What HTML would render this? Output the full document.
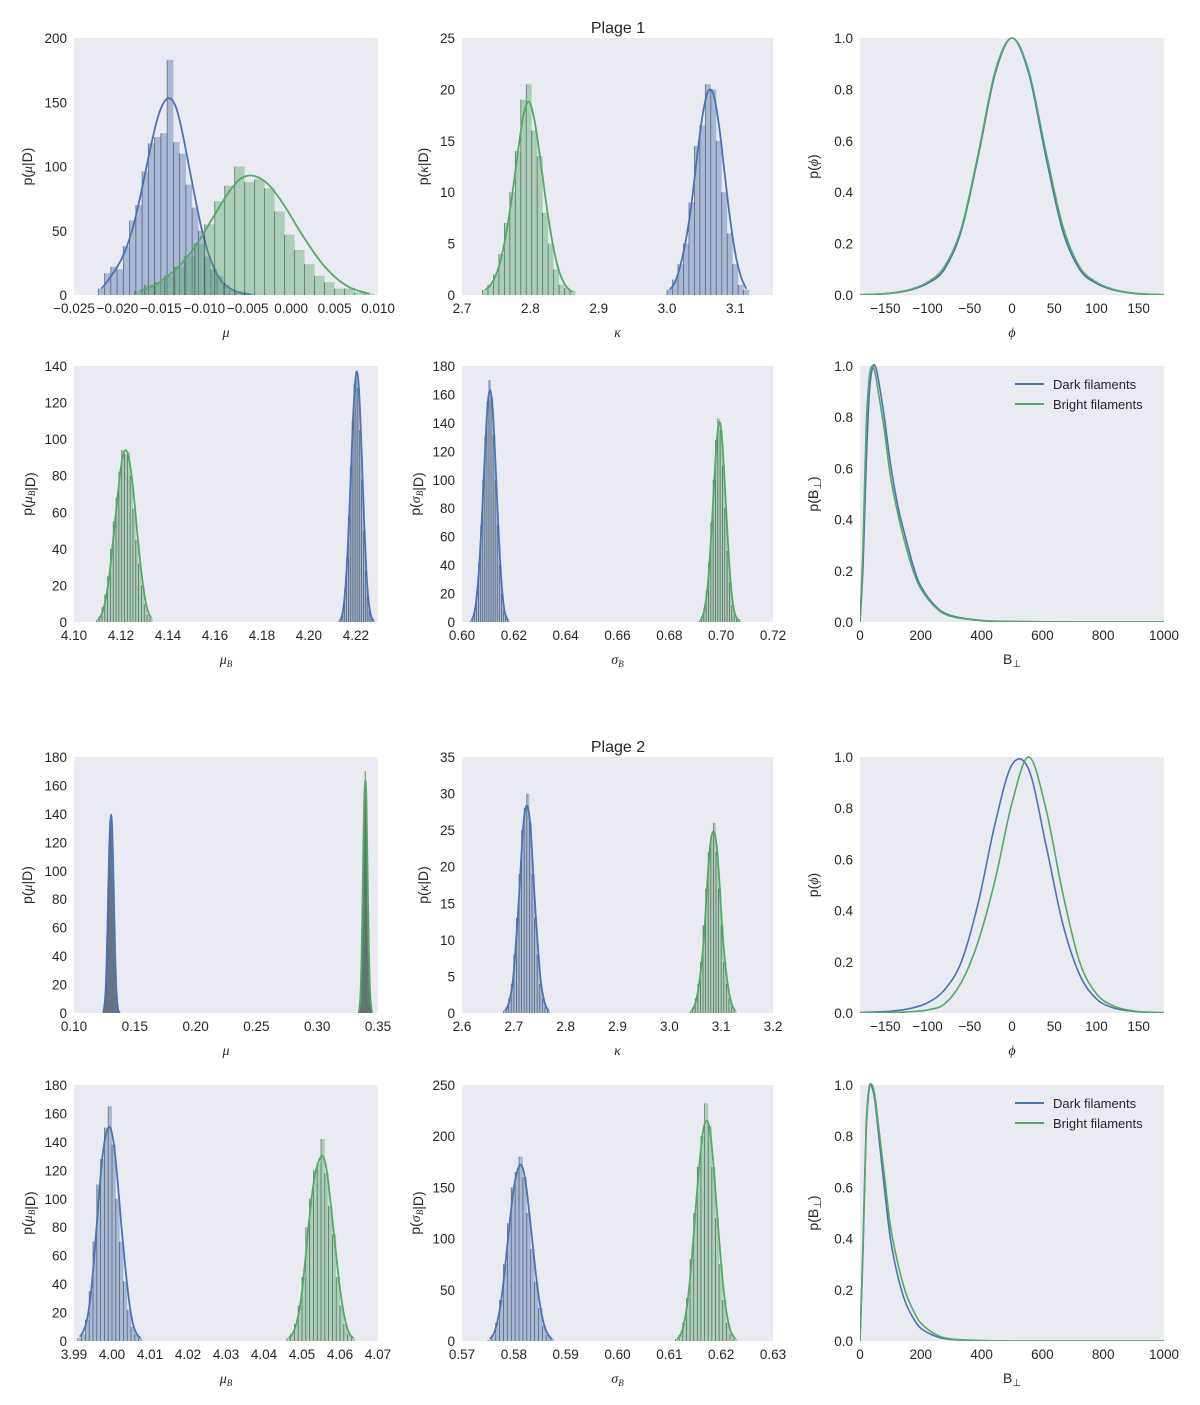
<!DOCTYPE html>
<html><head><meta charset="utf-8"><style>
html,body{margin:0;padding:0;background:#fff;}
svg{display:block;font-family:"Liberation Sans",sans-serif;}
</style></head><body>
<svg id="fig" width="1200" height="1405" viewBox="0 0 1200 1405" xmlns="http://www.w3.org/2000/svg"></svg>
<script>
// ---------- DATA ----------
// Plage 1, mu
const p1MuBlueStart=-0.0222, p1MuBlueWidth=0.00072;
const p1MuBlueHeights=[5,17,22,20,38,58,70,96,118,123,126,183,119,110,86,68,50,30,20,15,8,4,3,2,1];
const p1MuBlueKde=[5,11,18,26,37,52,72,95,118,138,150,153,145,125,100,75,52,34,21,12,7,4,2,1,0.5];
const p1MuGreenStart=-0.0180, p1MuGreenWidth=0.00115;
const p1MuGreenHeights=[3,8,10,15,22,30,40,55,73,85,100,88,90,83,65,47,35,24,15,10,5,5,2,1];
const p1MuGreenKde=[3,6,10,16,23,32,43,56,69,81,90,93,91,85,75,63,50,38,27,18,11,6,3,1];
// Plage 1, kappa
const p1KGreenStart=2.73, p1KGreenWidth=0.008;
const p1KGreenHeights=[0.5,1,2,4,7,10,14,19,20.5,16,13.5,8,5,2.5,1,0.7,0.4];
const p1KGreenKde=[0.5,1,2,3.8,6.5,10,14,17.5,18.8,17,13.5,9.5,6,3.3,1.6,0.7,0.3];
const p1KBlueStart=3.0, p1KBlueWidth=0.008;
const p1KBlueHeights=[0.5,1.5,3,5,9,14.5,16.5,20.5,20,15,10,6,3,1,0.5];
const p1KBlueKde=[0.5,1.3,3,5.5,9,13.5,17.5,19.8,19.5,16.5,12,7.5,4,1.8,0.6];
// phi curves
const phiX=[-180,-160,-140,-120,-100,-80,-60,-40,-20,0,20,40,60,80,100,120,140,160,180];
const p1PhiBlue=[0.001,0.003,0.008,0.02,0.045,0.1,0.25,0.54,0.86,1,0.86,0.54,0.25,0.1,0.045,0.02,0.008,0.003,0.001];
const p1PhiGreen=[0.001,0.003,0.009,0.022,0.05,0.11,0.26,0.55,0.87,1,0.87,0.56,0.27,0.11,0.05,0.022,0.009,0.003,0.001];
const p2PhiBlue=[0.002,0.004,0.008,0.018,0.04,0.09,0.2,0.43,0.74,0.97,0.95,0.66,0.35,0.15,0.055,0.02,0.008,0.003,0.001];
const p2PhiGreen=[0.0005,0.001,0.002,0.005,0.012,0.035,0.12,0.28,0.52,0.82,1,0.8,0.47,0.2,0.075,0.028,0.01,0.003,0.001];
// B curves
const bX=[0,10,20,30,40,50,60,80,100,125,150,175,200,250,300,400,500,700,1000];
const p1BBlue=[0,0.22,0.6,0.88,0.99,1.0,0.95,0.8,0.62,0.45,0.33,0.22,0.14,0.06,0.025,0.006,0.002,0,0];
const p1BGreen=[0,0.3,0.75,0.95,1.0,0.97,0.9,0.75,0.57,0.42,0.3,0.2,0.13,0.055,0.022,0.005,0.002,0,0];
const p2BBlue=[0,0.38,0.83,0.99,0.99,0.93,0.82,0.6,0.4,0.25,0.15,0.09,0.05,0.018,0.006,0.001,0,0,0];
const p2BGreen=[0,0.35,0.8,0.98,1.0,0.95,0.85,0.65,0.45,0.3,0.19,0.12,0.07,0.025,0.008,0.002,0,0,0];
// Plage 1, mu_B
const p1MbGreenStart=4.1095, p1MbGreenWidth=0.0012;
const p1MbGreenHeights=[1,3,8,15,25,40,55,68,82,94,92,93,80,62,45,32,20,10,4,2];
const p1MbGreenKde=[1,3,7,14,24,38,53,68,82,91,94,90,80,66,49,34,21,11,5,2];
const p1MbBlueStart=4.2128, p1MbBlueWidth=0.0008;
const p1MbBlueHeights=[1,3,8,18,35,58,85,110,130,137,128,105,78,50,28,14,6,2,1];
const p1MbBlueKde=[1,3,9,20,37,60,86,112,130,137,129,108,80,52,29,14,6,2,1];
// Plage 1, sigma_B
const p1SbBlueStart=0.6032, p1SbBlueWidth=0.0008;
const p1SbBlueHeights=[1,3,10,22,42,68,100,130,155,170,158,132,100,68,40,20,8,3,1];
const p1SbBlueKde=[1,4,11,24,44,70,102,132,155,163,155,132,100,68,40,20,8,3,1];
const p1SbGreenStart=0.6915, p1SbGreenWidth=0.0009;
const p1SbGreenHeights=[1,4,10,22,42,70,100,128,143,135,110,80,50,28,12,5,2,1];
const p1SbGreenKde=[1,4,11,23,43,70,100,126,140,135,112,82,52,28,13,5,2,1];
// Plage 2, mu
const p2MuBlueStart=0.1238, p2MuBlueWidth=0.0008;
const p2MuBlueHeights=[2,5,12,28,55,88,118,135,140,130,105,72,42,20,8,3,1,0.5];
const p2MuBlueKde=[2,5,13,29,55,87,116,133,139,130,106,73,43,21,9,3,1,0.5];
const p2MuGreenStart=0.3338, p2MuGreenWidth=0.0007;
const p2MuGreenHeights=[1,4,12,30,60,100,140,160,170,150,115,75,42,20,8,3,1];
const p2MuGreenKde=[1,4,12,30,60,100,138,158,163,150,115,76,42,20,8,3,1];
// Plage 2, kappa
const p2KBlueStart=2.68, p2KBlueWidth=0.005;
const p2KBlueHeights=[0.3,0.8,2,4,8,13,19,25,28,30,26,19,13,8,4,2,0.8,0.3];
const p2KBlueKde=[0.3,0.8,2,4,8,13,19,25,28,28,25,19,13,8,4,2,0.8,0.3];
const p2KGreenStart=3.04, p2KGreenWidth=0.005;
const p2KGreenHeights=[0.3,0.8,2,4,7,12,17,22,24,26,22,17,12,7,4,2,0.8,0.3];
const p2KGreenKde=[0.3,0.8,2,4,7,11,17,22,24.5,24.5,22,17,11,7,4,2,0.8,0.3];
// Plage 2, mu_B
const p2MbBlueStart=3.991, p2MbBlueWidth=0.001;
const p2MbBlueHeights=[2,5,15,35,70,110,128,150,165,138,100,70,42,22,10,5,2];
const p2MbBlueKde=[3,7,16,35,65,100,130,146,150,138,112,80,52,28,12,5,2];
const p2MbGreenStart=4.046, p2MbGreenWidth=0.001;
const p2MbGreenHeights=[2,5,12,25,45,80,100,120,125,142,118,95,75,45,25,12,5,2];
const p2MbGreenKde=[2,5,12,25,47,75,100,118,127,130,120,98,73,48,27,13,5,2];
// Plage 2, sigma_B
const p2SbBlueStart=0.5750, p2SbBlueWidth=0.00075;
const p2SbBlueHeights=[1,6,18,40,75,115,150,165,180,160,125,90,58,32,15,6,2];
const p2SbBlueKde=[2,7,20,42,75,112,145,165,172,160,130,95,60,33,15,6,2];
const p2SbGreenStart=0.6112, p2SbGreenWidth=0.0007;
const p2SbGreenHeights=[2,6,18,42,80,125,170,200,232,210,170,120,75,40,18,7,2];
const p2SbGreenKde=[2,7,20,44,82,127,170,203,215,205,170,122,78,42,19,7,2];

// tick labels
const ticksMu1=["−0.025","−0.020","−0.015","−0.010","−0.005","0.000","0.005","0.010"];
const ticksK1=["2.7","2.8","2.9","3.0","3.1"];
const ticksPhi=["−150","−100","−50","0","50","100","150"];
const ticksUnit=["0.0","0.2","0.4","0.6","0.8","1.0"];
const ticksMb1=["4.10","4.12","4.14","4.16","4.18","4.20","4.22"];
const ticksSb1=["0.60","0.62","0.64","0.66","0.68","0.70","0.72"];
const ticksB=["0","200","400","600","800","1000"];
const ticksMu2=["0.10","0.15","0.20","0.25","0.30","0.35"];
const ticksK2=["2.6","2.7","2.8","2.9","3.0","3.1","3.2"];
const ticksMb2=["3.99","4.00","4.01","4.02","4.03","4.04","4.05","4.06","4.07"];
const ticksSb2=["0.57","0.58","0.59","0.60","0.61","0.62","0.63"];

// ---------- DRAWING ----------
const NS="http://www.w3.org/2000/svg";
const svg=document.getElementById('fig');
const BLUE="#4C72B0", GREEN="#55A868";
const BLUEF="rgba(76,114,176,0.42)", GREENF="rgba(85,168,104,0.42)";
function mk(tag,attrs,parent){const e=document.createElementNS(NS,tag);for(const k in attrs)e.setAttribute(k,attrs[k]);(parent||svg).appendChild(e);return e;}
function num(s){return parseFloat(s.replace('−','-'));}

function makePanel(name,x0,y0,x1,y1,xmin,xmax,ymin,ymax,xt,yt,ylabHTML,xlabHTML,ylabOff){
  const g=mk('g',{});
  
  
  const bg=mk('rect',{x:x0,y:y0,width:x1-x0,height:y1-y0,fill:'#EAEAF2'},g);
  
  
  const P={g,x0,y0,x1,y1,sx:v=>x0+(v-xmin)/(xmax-xmin)*(x1-x0),sy:v=>y1-(v-ymin)/(ymax-ymin)*(y1-y0)};
  const clipId='c'+name;
  const cp=mk('clipPath',{id:clipId},g);mk('rect',{x:x0,y:y0-2,width:x1-x0,height:y1-y0+2},cp);
  P.clip='url(#'+clipId+')';
  xt.forEach(l=>{const t=mk('text',{x:P.sx(num(l)),y:y1+18,'text-anchor':'middle','font-size':'13.5',fill:'#262626'},g);t.textContent=l;
    
    });
  yt.forEach(l=>{const t=mk('text',{x:x0-7,y:P.sy(num(l))+5,'text-anchor':'end','font-size':'13.5',fill:'#262626'},g);t.textContent=l;
    
    });
  const yl=mk('text',{x:0,y:0,'text-anchor':'middle','font-size':'14',fill:'#262626',transform:`translate(${x0-ylabOff},${(y0+y1)/2}) rotate(-90)`},g);
  yl.innerHTML=ylabHTML;
  
  
  const xl=mk('text',{x:(x0+x1)/2,y:y1+42,'text-anchor':'middle','font-size':'14',fill:'#262626'},g);
  xl.innerHTML=xlabHTML;
  
  
  return P;
}
function smoothPath(pts){
  let d=`M${pts[0][0].toFixed(2)},${pts[0][1].toFixed(2)}`;
  for(let i=0;i<pts.length-1;i++){
    const p0=pts[i-1]||pts[i],p1=pts[i],p2=pts[i+1],p3=pts[i+2]||p2;
    const c1=[p1[0]+(p2[0]-p0[0])/6,p1[1]+(p2[1]-p0[1])/6];
    const c2=[p2[0]-(p3[0]-p1[0])/6,p2[1]-(p3[1]-p1[1])/6];
    d+=`C${c1[0].toFixed(2)},${c1[1].toFixed(2)} ${c2[0].toFixed(2)},${c2[1].toFixed(2)} ${p2[0].toFixed(2)},${p2[1].toFixed(2)}`;
  }
  return d;
}
function hist(P,start,width,heights,kde,color,fill,name){
  const g=mk('g',{'clip-path':P.clip},P.g);
  
  
  heights.forEach((h,i)=>{
    const xa=P.sx(start+i*width), xb=P.sx(start+(i+1)*width);
    const r=mk('rect',{x:xa,y:P.sy(h),width:Math.max(xb-xa,0.3),height:P.y1-P.sy(h),fill:fill},g);
    
    
    const ln=mk('line',{x1:xa,x2:xa,y1:P.y1,y2:P.sy(Math.min(h,heights[i-1]===undefined?h:Math.max(h,heights[i-1]))),stroke:'rgba(20,30,30,0.55)','stroke-width':0.8},g);
    
    
  });
  const pts=kde.map((v,i)=>[P.sx(start+(i+0.5)*width),P.sy(v)]);
  const path=mk('path',{d:smoothPath(pts),fill:'none',stroke:color,'stroke-width':1.8},g);
  
  
}
function curve(P,xs,ys,color,name){
  const pts=xs.map((x,i)=>[P.sx(x),P.sy(ys[i])]);
  const path=mk('path',{d:smoothPath(pts).replace(/,(\d+\.\d+)/g,(m,v)=>','+Math.min(parseFloat(v),P.y1).toFixed(2)),fill:'none',stroke:color,'stroke-width':1.6,'clip-path':P.clip},P.g);
  
  
}
function legend(P,y){
  const g=mk('g',{},P.g);
  
  
  [[BLUE,'Dark filaments'],[GREEN,'Bright filaments']].forEach((e,i)=>{
    const l=mk('line',{x1:1015,x2:1044,y1:y+i*20,y2:y+i*20,stroke:e[0],'stroke-width':2},g);
    
    
    const t=mk('text',{x:1053,y:y+i*20+5,'font-size':'13',fill:'#262626'},g);t.textContent=e[1];
    
    
  });
}
const I=s=>`<tspan font-family="Liberation Serif,serif" font-style="italic">${s}</tspan>`;
const SUB=s=>`<tspan font-family="Liberation Serif,serif" font-style="italic" font-size="9" dy="3">${s}</tspan><tspan dy="-3"></tspan>`;
const yMu=`p(${I('μ')}|D)`, yK=`p(${I('κ')}|D)`, yPhi=`p(${I('ϕ')})`;
const yMb=`p(${I('μ')}${SUB('B')}|D)`, ySb=`p(${I('σ')}${SUB('B')}|D)`;
const yB=`p(B<tspan font-size="10" dy="3">⊥</tspan><tspan dy="-3">)</tspan>`;
const xMb=`${I('μ')}${SUB('B')}`, xSb=`${I('σ')}${SUB('B')}`, xB=`B<tspan font-size="10" dy="3">⊥</tspan>`;

const C1=[74,378],C2=[462,773],C3=[860,1164];
const R=[[38,295],[366,622],[757,1013],[1085,1341]];
const y200=["0","50","100","150","200"], y25=["0","5","10","15","20","25"], y140=["0","20","40","60","80","100","120","140"];
const y180=["0","20","40","60","80","100","120","140","160","180"], y35=["0","5","10","15","20","25","30","35"], y250=["0","50","100","150","200","250"];

let P;
P=makePanel('p1-mu',C1[0],R[0][0],C1[1],R[0][1],-0.025,0.010,0,200,ticksMu1,y200,yMu,I('μ'),42);
hist(P,p1MuBlueStart,p1MuBlueWidth,p1MuBlueHeights,p1MuBlueKde,BLUE,BLUEF,'dark-hist');
hist(P,p1MuGreenStart,p1MuGreenWidth,p1MuGreenHeights,p1MuGreenKde,GREEN,GREENF,'bright-hist');
P=makePanel('p1-kappa',C2[0],R[0][0],C2[1],R[0][1],2.7,3.155,0,25,ticksK1,y25,yK,I('κ'),34);
hist(P,p1KGreenStart,p1KGreenWidth,p1KGreenHeights,p1KGreenKde,GREEN,GREENF,'bright-hist');
hist(P,p1KBlueStart,p1KBlueWidth,p1KBlueHeights,p1KBlueKde,BLUE,BLUEF,'dark-hist');
P=makePanel('p1-phi',C3[0],R[0][0],C3[1],R[0][1],-180,180,0,1,ticksPhi,ticksUnit,yPhi,I('ϕ'),42);
curve(P,phiX,p1PhiBlue,BLUE,'dark-phi-curve');curve(P,phiX,p1PhiGreen,GREEN,'bright-phi-curve');
P=makePanel('p1-muB',C1[0],R[1][0],C1[1],R[1][1],4.10,4.2294,0,140,ticksMb1,y140,yMb,xMb,42);
hist(P,p1MbGreenStart,p1MbGreenWidth,p1MbGreenHeights,p1MbGreenKde,GREEN,GREENF,'bright-hist');
hist(P,p1MbBlueStart,p1MbBlueWidth,p1MbBlueHeights,p1MbBlueKde,BLUE,BLUEF,'dark-hist');
P=makePanel('p1-sigmaB',C2[0],R[1][0],C2[1],R[1][1],0.60,0.72,0,180,ticksSb1,y180,ySb,xSb,42);
hist(P,p1SbBlueStart,p1SbBlueWidth,p1SbBlueHeights,p1SbBlueKde,BLUE,BLUEF,'dark-hist');
hist(P,p1SbGreenStart,p1SbGreenWidth,p1SbGreenHeights,p1SbGreenKde,GREEN,GREENF,'bright-hist');
P=makePanel('p1-B',C3[0],R[1][0],C3[1],R[1][1],0,1000,0,1,ticksB,ticksUnit,yB,xB,42);
curve(P,bX,p1BBlue,BLUE,'dark-b-curve');curve(P,bX,p1BGreen,GREEN,'bright-b-curve');legend(P,384);

P=makePanel('p2-mu',C1[0],R[2][0],C1[1],R[2][1],0.10,0.35,0,180,ticksMu2,y180,yMu,I('μ'),42);
hist(P,p2MuBlueStart,p2MuBlueWidth,p2MuBlueHeights,p2MuBlueKde,BLUE,BLUEF,'dark-hist');
hist(P,p2MuGreenStart,p2MuGreenWidth,p2MuGreenHeights,p2MuGreenKde,GREEN,GREENF,'bright-hist');
P=makePanel('p2-kappa',C2[0],R[2][0],C2[1],R[2][1],2.6,3.2,0,35,ticksK2,y35,yK,I('κ'),34);
hist(P,p2KBlueStart,p2KBlueWidth,p2KBlueHeights,p2KBlueKde,BLUE,BLUEF,'dark-hist');
hist(P,p2KGreenStart,p2KGreenWidth,p2KGreenHeights,p2KGreenKde,GREEN,GREENF,'bright-hist');
P=makePanel('p2-phi',C3[0],R[2][0],C3[1],R[2][1],-180,180,0,1,ticksPhi,ticksUnit,yPhi,I('ϕ'),42);
curve(P,phiX,p2PhiBlue,BLUE,'dark-phi-curve');curve(P,phiX,p2PhiGreen,GREEN,'bright-phi-curve');
P=makePanel('p2-muB',C1[0],R[3][0],C1[1],R[3][1],3.99,4.07,0,180,ticksMb2,y180,yMb,xMb,42);
hist(P,p2MbBlueStart,p2MbBlueWidth,p2MbBlueHeights,p2MbBlueKde,BLUE,BLUEF,'dark-hist');
hist(P,p2MbGreenStart,p2MbGreenWidth,p2MbGreenHeights,p2MbGreenKde,GREEN,GREENF,'bright-hist');
P=makePanel('p2-sigmaB',C2[0],R[3][0],C2[1],R[3][1],0.57,0.63,0,250,ticksSb2,y250,ySb,xSb,42);
hist(P,p2SbBlueStart,p2SbBlueWidth,p2SbBlueHeights,p2SbBlueKde,BLUE,BLUEF,'dark-hist');
hist(P,p2SbGreenStart,p2SbGreenWidth,p2SbGreenHeights,p2SbGreenKde,GREEN,GREENF,'bright-hist');
P=makePanel('p2-B',C3[0],R[3][0],C3[1],R[3][1],0,1000,0,1,ticksB,ticksUnit,yB,xB,42);
curve(P,bX,p2BBlue,BLUE,'dark-b-curve');curve(P,bX,p2BGreen,GREEN,'bright-b-curve');legend(P,1103);

const t1=mk('text',{x:618,y:33,'text-anchor':'middle','font-size':'16',fill:'#262626'});t1.textContent='Plage 1';


const t2=mk('text',{x:618,y:752,'text-anchor':'middle','font-size':'16',fill:'#262626'});t2.textContent='Plage 2';


</script>
</body></html>
